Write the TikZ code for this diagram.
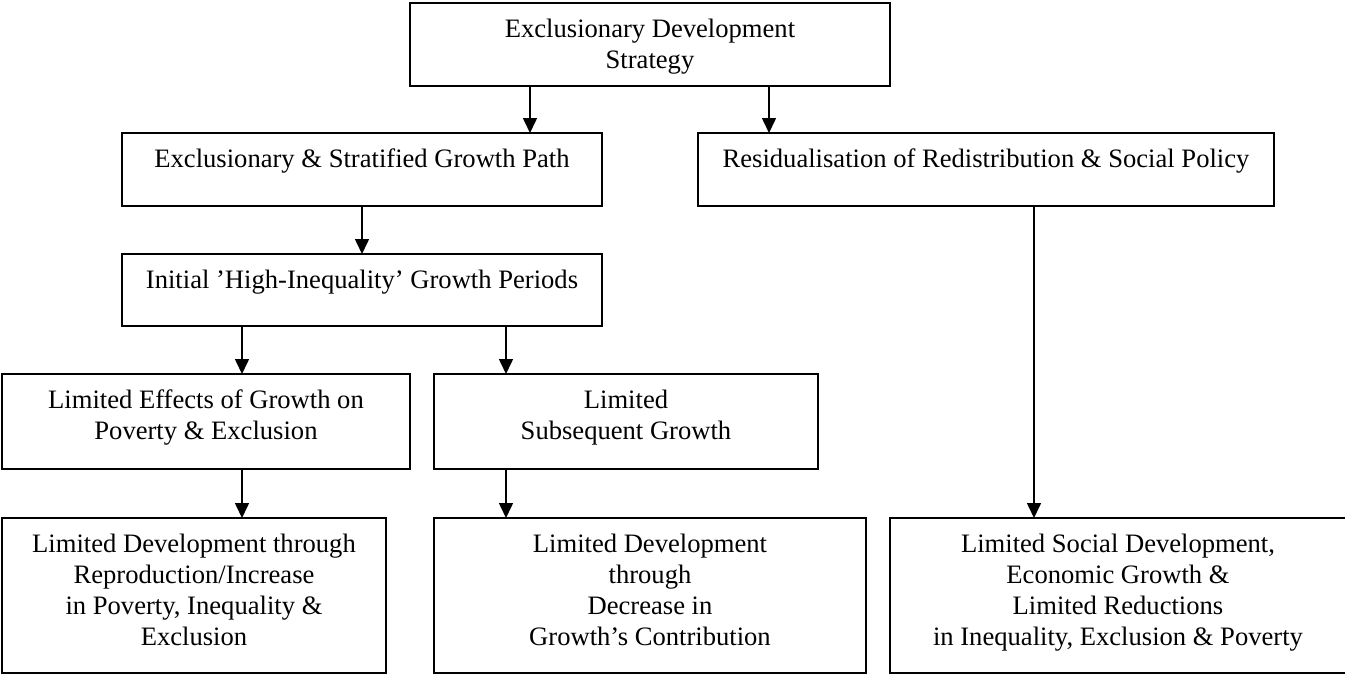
\documentclass[tikz,border=0pt]{standalone}
\usepackage{fontspec}
\setmainfont{Liberation Serif}
\usetikzlibrary{arrows.meta}
\newcommand\boxtext[3]{\parbox[c][#2pt][t]{#1pt}{\centering\fontsize{26.6}{31}\selectfont\rule{0pt}{34.5pt}#3}}
\begin{document}
\begin{tikzpicture}[x=1pt,y=-1pt,
  box/.style={draw, line width=2pt, inner sep=0pt, outer sep=0pt},
  arr/.style={line width=1.6pt, -{Triangle[length=15pt,width=14pt]}}]
\useasboundingbox (0,0) rectangle (1345,675);
\node[box] (top)  at (650,44.5)  {\boxtext{480}{83}{Exclusionary Development\\Strategy}};
\node[box] (grow) at (362,169.5) {\boxtext{480}{73}{Exclusionary \& Stratified Growth Path}};
\node[box] (resid) at (986,169.5) {\boxtext{576}{73}{Residualisation of Redistribution \& Social Policy}};
\node[box] (init) at (362,290)   {\boxtext{480}{72}{Initial ’High-Inequality’ Growth Periods}};
\node[box] (eff)  at (206,421.5) {\boxtext{408}{95}{Limited Effects of Growth on\\Poverty \& Exclusion}};
\node[box] (subs) at (626,421.5) {\boxtext{384}{95}{Limited\\Subsequent Growth}};
\node[box] (bl)   at (194,595.5) {\boxtext{384}{155}{Limited Development through\\Reproduction/Increase\\in Poverty, Inequality \&\\Exclusion}};
\node[box] (bm)   at (650,595.5) {\boxtext{432}{155}{Limited Development\\through\\Decrease in\\Growth’s Contribution}};
\node[box] (br)   at (1118,595.5) {\boxtext{456}{155}{Limited Social Development,\\Economic Growth \&\\Limited Reductions\\in Inequality, Exclusion \& Poverty}};
\draw[arr] ([xshift=-120pt]top.south) -- ([xshift=-120pt]top.south |- grow.north);
\draw[arr] ([xshift=119pt]top.south) -- ([xshift=119pt]top.south |- resid.north);
\draw[arr] (grow.south) -- (init.north);
\draw[arr] ([xshift=-120pt]init.south) -- ([xshift=-120pt]init.south |- eff.north);
\draw[arr] ([xshift=144pt]init.south) -- ([xshift=144pt]init.south |- subs.north);
\draw[arr] ([xshift=36pt]eff.south) -- ([xshift=36pt]eff.south |- bl.north);
\draw[arr] ([xshift=-120pt]subs.south) -- ([xshift=-120pt]subs.south |- bm.north);
\draw[arr] ([xshift=48pt]resid.south) -- ([xshift=48pt]resid.south |- br.north);
\end{tikzpicture}
\end{document}
